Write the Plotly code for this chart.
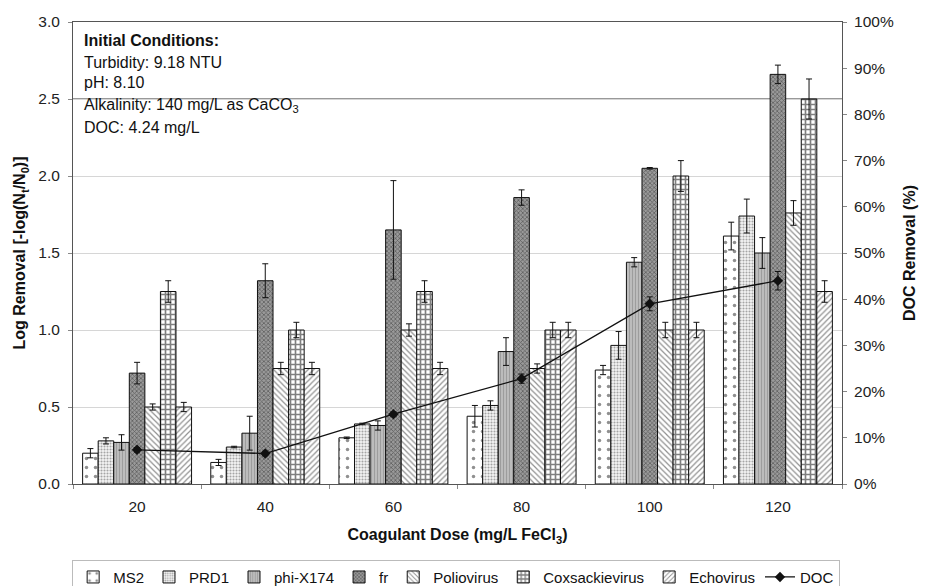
import plotly.graph_objects as go

doses = ["20", "40", "60", "80", "100", "120"]

ms2 = [0.20, 0.14, 0.30, 0.44, 0.74, 1.61]
ms2_err = [0.03, 0.02, 0.005, 0.07, 0.03, 0.09]
prd1 = [0.28, 0.24, 0.39, 0.51, 0.90, 1.74]
prd1_err = [0.02, 0.005, 0.005, 0.03, 0.09, 0.11]
phix174 = [0.27, 0.33, 0.38, 0.86, 1.44, 1.50]
phix174_err = [0.05, 0.11, 0.03, 0.09, 0.03, 0.10]
fr = [0.72, 1.32, 1.65, 1.86, 2.05, 2.66]
fr_err = [0.07, 0.11, 0.32, 0.05, 0.005, 0.06]
polio = [0.50, 0.75, 1.00, 0.75, 1.00, 1.76]
polio_err = [0.02, 0.04, 0.04, 0.03, 0.05, 0.08]
coxsackie = [1.25, 1.00, 1.25, 1.00, 2.00, 2.50]
coxsackie_err = [0.07, 0.05, 0.07, 0.05, 0.10, 0.13]
echo = [0.50, 0.75, 0.75, 1.00, 1.00, 1.25]
echo_err = [0.03, 0.04, 0.04, 0.05, 0.05, 0.07]
doc = [0.074, 0.066, 0.151, 0.228, 0.39, 0.44]
doc_err = [0.005, 0.005, 0.005, 0.01, 0.015, 0.02]

conditions = [
    "<b>Initial Conditions:</b>",
    "Turbidity: 9.18 NTU",
    "pH: 8.10",
    "Alkalinity: 140 mg/L as CaCO<sub>3</sub>",
    "DOC: 4.24 mg/L",
]

FONT = "Liberation Sans, Arial, sans-serif"

series = [
    ("MS2", ms2, ms2_err, dict(shape=".", fgcolor="#222", bgcolor="white", size=9, solidity=0.12)),
    ("PRD1", prd1, prd1_err, dict(shape=".", fgcolor="#555", bgcolor="#f4f4f4", size=3, solidity=0.4)),
    ("phi-X174", phix174, phix174_err, dict(shape="|", fgcolor="#777", bgcolor="#bcbcbc", size=3, solidity=0.3)),
    ("fr", fr, fr_err, dict(shape="x", fgcolor="#222", bgcolor="#9a9a9a", size=3, solidity=0.45)),
    ("Poliovirus", polio, polio_err, dict(shape="\\", fgcolor="#222", bgcolor="white", size=4, solidity=0.3)),
    ("Coxsackievirus", coxsackie, coxsackie_err, dict(shape="+", fgcolor="#000", bgcolor="white", size=5, solidity=0.55)),
    ("Echovirus", echo, echo_err, dict(shape="/", fgcolor="#222", bgcolor="white", size=4, solidity=0.3)),
]

fig = go.Figure()
for name, vals, errs, pat in series:
    fig.add_trace(go.Bar(
        x=doses, y=vals, name=name,
        marker=dict(color=pat["bgcolor"], line=dict(color="#111", width=1),
                    pattern=dict(shape=pat["shape"], fgcolor=pat["fgcolor"],
                                 bgcolor=pat["bgcolor"], size=pat["size"],
                                 solidity=pat["solidity"], fillmode="overlay")),
        error_y=dict(type="data", array=errs, color="#111", thickness=1, width=3),
    ))

fig.add_trace(go.Scatter(
    x=doses, y=doc, name="DOC", yaxis="y2", mode="lines+markers",
    line=dict(color="#111", width=1.3),
    marker=dict(symbol="diamond", size=8, color="#111"),
    error_y=dict(type="data", array=doc_err, color="#111", thickness=1, width=3),
))

ys = [0.9589, 0.9113, 0.868, 0.8203, 0.7727]
for txt, yy in zip(conditions, ys):
    fig.add_annotation(text=txt, xref="paper", yref="paper", x=0.0117, y=yy,
                       xanchor="left", yanchor="middle", showarrow=False,
                       font=dict(family=FONT, size=16, color="#111"))

fig.add_shape(type="line", xref="paper", yref="y", x0=0, x1=1, y0=2.5, y1=2.5,
              line=dict(color="#777", width=1.5), layer="below")

TICKF = dict(family=FONT, size=15.5, color="#222")
TITLEF = dict(family=FONT, size=16, color="#111")

fig.update_layout(
    width=925, height=586,
    margin=dict(l=73, r=83, t=22, b=102, autoexpand=False),
    paper_bgcolor="white", plot_bgcolor="white",
    font=dict(family=FONT, size=15, color="#222"),
    barmode="group", bargap=0.15, bargroupgap=0,
    showlegend=True,
    legend=dict(orientation="h", xref="container", yref="container",
                x=0.078, xanchor="left", y=0.015, yanchor="middle",
                font=dict(family=FONT, size=15, color="#111"),
                bordercolor="#bbb", borderwidth=1,
                tracegroupgap=0, traceorder="normal"),
    xaxis=dict(type="category", showline=True, linecolor="#555", linewidth=1, mirror=True,
               ticks="outside", ticklen=4, tickcolor="#888", tickson="boundaries",
               showgrid=False, automargin=False, ticklabelstandoff=8,
               tickfont=TICKF,
               title=dict(text="<b>Coagulant Dose (mg/L FeCl<sub>3</sub>)</b>",
                          font=TITLEF, standoff=15)),
    yaxis=dict(range=[0, 3], dtick=0.5, tickformat=".1f", showline=True, linecolor="#555",
               linewidth=1, ticks="outside", ticklen=4, tickcolor="#888",
               showgrid=True, gridcolor="#d6d6d6", gridwidth=1, zeroline=False,
               automargin=False, ticklabelstandoff=5,
               tickfont=TICKF,
               title=dict(text="<b>Log Removal [-log(N<sub>t</sub>/N<sub>0</sub>)]</b>",
                          font=TITLEF, standoff=8)),
    yaxis2=dict(range=[0, 1], dtick=0.1, tickformat=".0%", overlaying="y", side="right",
                showline=True, linecolor="#555", linewidth=1, ticks="outside", ticklen=4,
                tickcolor="#888", showgrid=False, zeroline=False,
                automargin=False, ticklabelstandoff=4,
                tickfont=TICKF,
                title=dict(text="<b>DOC Removal (%)</b>",
                           font=TITLEF, standoff=10)),
)

fig.write_html("out.html")
